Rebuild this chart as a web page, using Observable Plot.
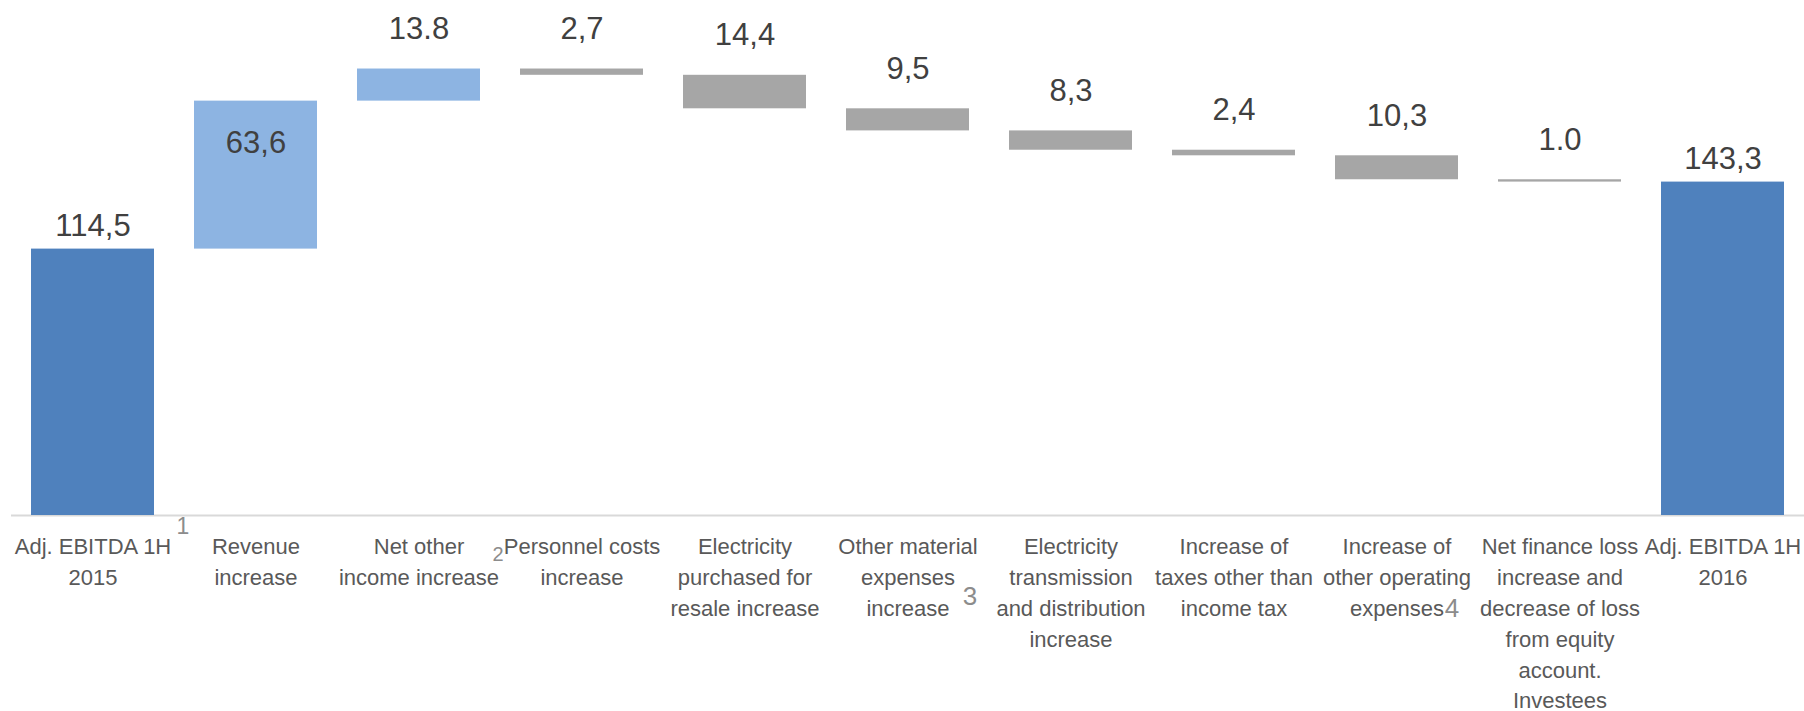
<!DOCTYPE html>
<html>
<head>
<meta charset="utf-8">
<script src="https://cdn.jsdelivr.net/npm/d3@7"></script>
<script src="https://cdn.jsdelivr.net/npm/@observablehq/plot@0.6"></script>
<style>
  html, body { margin: 0; padding: 0; background: #ffffff; }
  #chart svg { display: block; }
</style>
</head>
<body>
<div id="chart"></div>
<script>
// Adjusted EBITDA bridge, 1H 2015 -> 1H 2016 (EUR m)
const categories = [
  "Adj. EBITDA 1H\n2015",
  "Revenue\nincrease",
  "Net other\nincome increase",
  "Personnel costs\nincrease",
  "Electricity\npurchased for\nresale increase",
  "Other material\nexpenses\nincrease",
  "Electricity\ntransmission\nand distribution\nincrease",
  "Increase of\ntaxes other than\nincome tax",
  "Increase of\nother operating\nexpenses",
  "Net finance loss\nincrease and\ndecrease of loss\nfrom equity\naccount.\nInvestees",
  "Adj. EBITDA 1H\n2016"
];
// signed change for each step; first and last entries are totals
const values = [114.5, 63.6, 13.8, -2.7, -14.4, -9.5, -8.3, -2.4, -10.3, -1.0, 143.3];
const kinds = ["total", "increase", "increase", "decrease", "decrease", "decrease",
               "decrease", "decrease", "decrease", "decrease", "total"];
const valueLabels = ["114,5", "63,6", "13.8", "2,7", "14,4", "9,5", "8,3", "2,4", "10,3", "1.0", "143,3"];

// footnote markers attached to category labels
const footnoteMarks = ["1", "2", "3", "4"];
const footnoteCategories = [categories[0], categories[2], categories[5], categories[8]];

// running totals -> floating bars
let running = 0;
const rows = categories.map((category, i) => {
  const v = values[i];
  let y1, y2;
  if (kinds[i] === "total") {
    y1 = 0; y2 = v; running = v;
  } else {
    y1 = running; y2 = running + v; running = y2;
  }
  const top = Math.max(y1, y2);
  // tall step bars carry their label inside, the rest sit above
  const inside = kinds[i] !== "total" && Math.abs(v) > 30;
  return {category, value: v, kind: kinds[i], label: valueLabels[i], y1, y2, top, inside};
});

const footnotes = footnoteMarks.map((mark, i) => ({mark, category: footnoteCategories[i]}));

const valueFont = "'Liberation Sans Narrow', 'Arial Narrow', 'Liberation Sans', Arial, sans-serif";
const labelFont = "'Liberation Sans', Arial, sans-serif";
const noteStyle = {x: "category", y: () => 0, text: "mark", lineAnchor: "bottom",
                   fontFamily: labelFont, fill: "#8C8C8C"};
const noteFor = (m) => footnotes.filter(d => d.mark === m);

const chart = Plot.plot({
  width: 1804,
  height: 711,
  marginLeft: 11,
  marginRight: 0,
  marginTop: 0,
  marginBottom: 196,
  style: {background: "#ffffff", overflow: "visible"},
  x: {type: "band", domain: categories, paddingInner: 0.246, paddingOuter: 0.123, axis: null},
  y: {domain: [0, 221.35], axis: null},
  color: {domain: ["total", "increase", "decrease"], range: ["#4F81BD", "#8DB4E2", "#A6A6A6"]},
  marks: [
    Plot.ruleY([0], {stroke: "#D9D9D9", strokeWidth: 2}),
    Plot.barY(rows, {x: "category", y1: "y1", y2: "y2", fill: "kind"}),
    // totals: label just above the bar
    Plot.text(rows.filter(d => d.kind === "total"), {
      x: "category", y: "top", text: "label", lineAnchor: "bottom", dy: -13,
      fontFamily: valueFont, fontSize: 31, fill: "#404040"
    }),
    // steps: label floating above the bar
    Plot.text(rows.filter(d => d.kind !== "total" && !d.inside), {
      x: "category", y: "top", text: "label", lineAnchor: "bottom", dy: -30,
      fontFamily: valueFont, fontSize: 31, fill: "#404040"
    }),
    // large step: label inside, near the top
    Plot.text(rows.filter(d => d.inside), {
      x: "category", y: "top", text: "label", lineAnchor: "bottom", dy: 52,
      fontFamily: valueFont, fontSize: 31, fill: "#404040"
    }),
    // category labels under the baseline
    Plot.text(rows, {
      x: "category", y: () => 0, text: "category", lineAnchor: "top", dy: 17,
      lineHeight: 1.4, fontFamily: labelFont, fontSize: 22, fill: "#595959"
    }),
    // footnote markers
    Plot.text(noteFor("1"), {...noteStyle, dx: 90, dy: 18, fontSize: 23}),
    Plot.text(noteFor("2"), {...noteStyle, dx: 79, dy: 45, fontSize: 20}),
    Plot.text(noteFor("3"), {...noteStyle, dx: 62, dy: 89, fontSize: 26}),
    Plot.text(noteFor("4"), {...noteStyle, dx: 55, dy: 101, fontSize: 26})
  ]
});

document.getElementById("chart").appendChild(chart);
</script>
</body>
</html>
